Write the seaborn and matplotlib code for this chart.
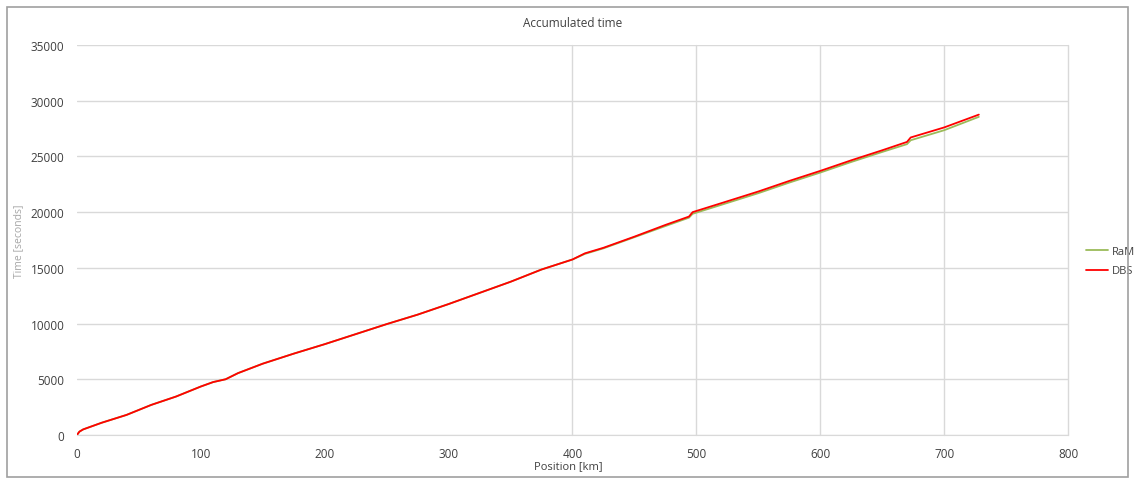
import numpy as np
import pandas as pd
import matplotlib
matplotlib.use('Agg')
from matplotlib import pyplot as plt
from matplotlib.patches import Rectangle
import seaborn as sns

# Valeurs (position en km, temps cumulé en s)
position_km = [0, 2, 5, 20, 40, 60, 80, 100, 110, 120, 130, 150, 175, 200, 225,
               250, 275, 300, 325, 350, 375, 400, 410, 425, 450, 475, 494, 497,
               520, 550, 575, 600, 625, 650, 670, 673, 700, 728]
time_ram = [0, 300, 500, 1100, 1800, 2700, 3450, 4350, 4750, 5000, 5550, 6400,
            7300, 8150, 9050, 9950, 10800, 11750, 12750, 13750, 14850, 15750,
            16250, 16750, 17750, 18750, 19500, 19850, 20650, 21700, 22650,
            23550, 24500, 25400, 26100, 26450, 27350, 28550]
time_dbs = [0, 300, 500, 1100, 1800, 2700, 3450, 4350, 4750, 5000, 5550, 6400,
            7300, 8150, 9050, 9950, 10800, 11750, 12750, 13750, 14850, 15750,
            16300, 16800, 17800, 18850, 19600, 20000, 20800, 21850, 22800,
            23700, 24650, 25550, 26300, 26700, 27600, 28750]
series_names = ['RaM', 'DBS']
series_colors = ['#9BBB59', '#FF0000']
x_grid_km = [400, 500, 600, 700, 800]  # seules lignes verticales visibles

df = pd.DataFrame({
    'position': position_km * 2,
    'time': time_ram + time_dbs,
    'serie': [series_names[0]] * len(time_ram) + [series_names[1]] * len(time_dbs),
})

sns.set_style('white')
plt.rcParams['font.family'] = ['Open Sans', 'DejaVu Sans']

fig = plt.figure(figsize=(11.35, 4.81), dpi=100)
ax = fig.add_axes([0.0678, 0.0936, 0.8732, 0.8108])

sns.lineplot(data=df, x='position', y='time', hue='serie', hue_order=series_names,
             palette=series_colors, linewidth=1.3, ax=ax, estimator=None, sort=False)

ax.set_xlim(0, 800)
ax.set_ylim(0, 35000)
ax.set_xticks(np.arange(0, 801, 100))
ax.set_yticks(np.arange(0, 35001, 5000))
ax.grid(True, axis='y', color='#D9D9D9', linewidth=1)
for xg in x_grid_km:
    ax.axvline(xg, color='#D9D9D9', linewidth=1, zorder=0, clip_on=False)
ax.set_axisbelow(True)
for side in ['left', 'right', 'top']:
    ax.spines[side].set_visible(False)
ax.spines['bottom'].set_color('#D9D9D9')
ax.tick_params(axis='both', length=0, labelsize=8.5, colors='#404040')
ax.tick_params(axis='x', pad=9)
ax.tick_params(axis='y', pad=9)

ax.set_title('Accumulated time', fontsize=8.5, color='#404040', pad=14)
ax.set_xlabel('Position [km]', fontsize=8, color='#404040')
ax.xaxis.set_label_coords(0.496, -0.065)
ax.set_ylabel('Time [seconds]', fontsize=7.5, color='#A6A6A6')
ax.yaxis.set_label_coords(-0.053, 0.5)

leg = ax.legend(loc='center left', bbox_to_anchor=(1.008, 0.446), frameon=False,
                fontsize=8, handlelength=2.0, labelspacing=0.8, handletextpad=0.3)
for txt in leg.get_texts():
    txt.set_color('#404040')

# Cadre gris autour du graphique
fig.patches.append(Rectangle((0.006, 0.006), 0.988, 0.978, transform=fig.transFigure,
                             fill=False, edgecolor='#A0A0A0', linewidth=1.2))

fig.savefig('out.png', dpi=100)
plt.close()
